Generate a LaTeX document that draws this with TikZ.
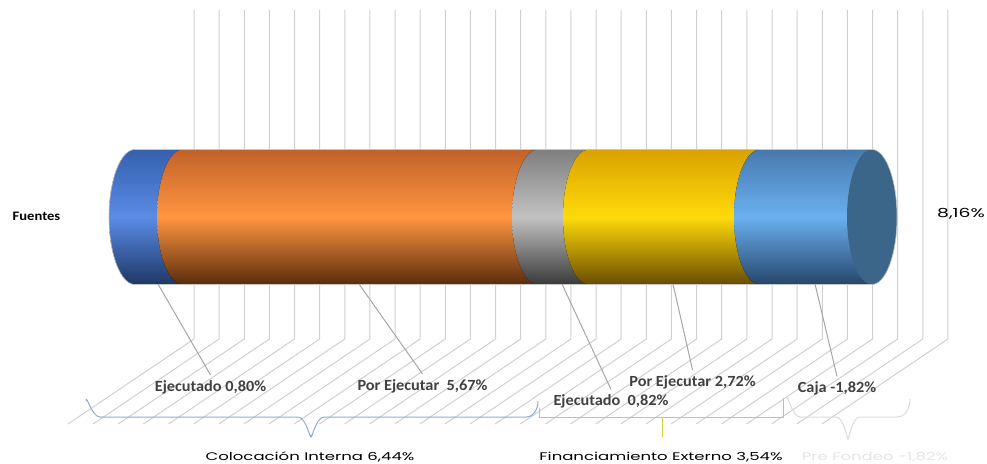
\documentclass[tikz,border=0pt]{standalone}
\usepackage{fontspec}
\newfontfamily\calfont{Carlito}
\newfontfamily\popfont{Poppins}
\usetikzlibrary{calc}
\definecolor{gridc}{HTML}{D0D0D0}
\definecolor{leadc}{HTML}{A6A6A6}
\definecolor{lblc}{HTML}{404040}
\definecolor{bltop}{HTML}{3460AD}
\definecolor{blmid}{HTML}{5A8CE6}
\definecolor{blbot}{HTML}{1E3766}
\definecolor{ortop}{HTML}{C2622A}
\definecolor{ormid}{HTML}{FF9540}
\definecolor{orbot}{HTML}{5A2C0C}
\definecolor{grtop}{HTML}{7F7F7F}
\definecolor{grmid}{HTML}{C2C2C2}
\definecolor{grbot}{HTML}{3A3A3A}
\definecolor{yetop}{HTML}{D9A200}
\definecolor{yemid}{HTML}{FFDA0A}
\definecolor{yebot}{HTML}{684C00}
\definecolor{lbtop}{HTML}{4879AE}
\definecolor{lbmid}{HTML}{6AB0F0}
\definecolor{lbbot}{HTML}{27456A}
\definecolor{capc}{HTML}{3B6689}
\definecolor{bracebl}{HTML}{8FAADC}
\definecolor{braceye}{HTML}{D2CE3A}
\definecolor{bracegr}{HTML}{DADADA}
\tikzset{
  gridline/.style={draw=gridc, line width=1pt},
  leader/.style={draw=leadc, line width=1pt},
  lbl/.style={font=\calfont\bfseries\fontsize{15.5}{18}\selectfont, text=lblc, inner xsep=0pt, inner ysep=5pt, anchor=base, xscale=1.05},
  bot/.style={font=\popfont\fontsize{11}{13}\selectfont, text=black, inner sep=0pt, anchor=base, xscale=1.5},
  brc/.style={line width=1pt}
}
\begin{document}
\begin{tikzpicture}[x=1pt,y=-1pt]
\useasboundingbox (0,0) rectangle (987,463);
% back wall and floor grid
\foreach \i in {0,...,30}{
  \pgfmathsetmacro\gx{194+25.13*\i}
  \draw[gridline] (\gx,10) -- (\gx,339) -- ({\gx-126},424);
}
% cylinder segments
\fill[top color=bltop, bottom color=blbot, middle color=blmid]
  (135,284.5) arc[start angle=90,end angle=270,x radius=26,y radius=67.5] -- (183,149.5) -- (183,284.5) -- cycle;
\fill[top color=ortop, bottom color=orbot, middle color=ormid]
  (183,284.5) arc[start angle=90,end angle=270,x radius=26,y radius=67.5] -- (538,149.5) -- (538,284.5) -- cycle;
\fill[top color=grtop, bottom color=grbot, middle color=grmid]
  (538,284.5) arc[start angle=90,end angle=270,x radius=26,y radius=67.5] -- (589,149.5) -- (589,284.5) -- cycle;
\fill[top color=yetop, bottom color=yebot, middle color=yemid]
  (589,284.5) arc[start angle=90,end angle=270,x radius=26,y radius=67.5] -- (760,149.5) -- (760,284.5) -- cycle;
\fill[top color=lbtop, bottom color=lbbot, middle color=lbmid]
  (760,284.5) arc[start angle=90,end angle=270,x radius=26,y radius=67.5] -- (872,149.5) -- (872,284.5) -- cycle;
\fill[capc] (872,217) ellipse [x radius=25, y radius=67.5];
\draw[gray!45, line width=0.6pt] (135,284.5) arc[start angle=90,end angle=270,x radius=26,y radius=67.5] -- (872,149.5)
  arc[start angle=-90,end angle=90,x radius=25,y radius=67.5] -- cycle;
% anchor points on the cylinder
\coordinate (c1) at (158,284);
\coordinate (c2) at (359,284);
\coordinate (c3) at (562,284);
\coordinate (c4) at (673,284);
\coordinate (c5) at (815,284);
% labels
\node[lbl] (e1) at (210.5,391) {Ejecutado 0,80\%};
\node[lbl] (e2) at (422.5,390) {Por Ejecutar\ \ 5,67\%};
\node[lbl] (e3) at (611,405.5) {Ejecutado\ \ 0,82\%};
\node[lbl] (e4) at (692.5,386) {Por Ejecutar 2,72\%};
\node[lbl] (e5) at (837,392.5) {Caja -1,82\%};
\draw[leader] (c1) -- (e1.north);
\draw[leader] (c2) -- (e2.north);
\draw[leader] (c3) -- (e3.north);
\draw[leader] (c4) -- (e4.north);
\draw[leader] (c5) -- (e5.north);
% side texts
\node[font=\calfont\bfseries\fontsize{13}{15}\selectfont, anchor=base, inner sep=0pt, xscale=1.12] (fu) at (36.5,220) {Fuentes};
\node[bot, font=\popfont\fontsize{12.5}{14}\selectfont] (tot) at (961,217) {8,16\%};
% braces
\draw[brc, draw=bracebl] (86,401) to[out=90,in=180] (100,417) -- (298,417) to[out=0,in=-90] (311,435)
  (311,435) to[out=-90,in=180] (324,417) -- (526,417) to[out=0,in=-90] (538,401);
\draw[brc, draw=braceye] (539,408) -- (539,417) -- (783,417) -- (783,398)
  (662,417) -- (662,437);
\draw[brc, draw=bracegr] (787,399) to[out=90,in=180] (800,417) -- (836,417) to[out=0,in=-90] (848,437)
  (848,437) to[out=-90,in=180] (860,417) -- (897,417) to[out=0,in=-90] (910,399);
% bottom texts
\node[bot] (ci) at (310,460) {Colocación Interna 6,44\%};
\node[bot] (fe) at (661,460) {Financiamiento Externo 3,54\%};
\node[bot, text=gray!22] (pf) at (875,460) {Pre Fondeo -1,82\%};
\end{tikzpicture}
\end{document}
